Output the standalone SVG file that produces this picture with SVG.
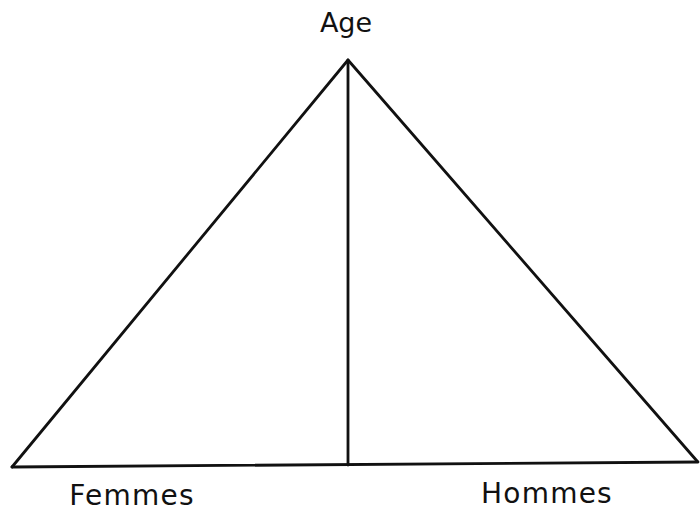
<svg xmlns="http://www.w3.org/2000/svg" width="700" height="511" viewBox="0 0 700 511">
<style>
.ln{stroke:#111;stroke-width:2.8;fill:none;stroke-linecap:round;stroke-linejoin:round}
.lb{font-family:"DejaVu Sans","Liberation Sans",sans-serif;fill:#111}
</style>
<rect width="700" height="511" fill="#fff"/>
<g id="pyramid">
<path class="ln" d="M12,467 L348,60 L697,461"/>
<path class="ln" d="M12,467 L698,462"/>
<path class="ln" d="M348,60 L348,465"/>
</g>
<g id="labels">
<text class="lb" x="346" y="32" font-size="27" text-anchor="middle">Age</text>
<text class="lb" x="132" y="505" font-size="28" letter-spacing="1.2" text-anchor="middle">Femmes</text>
<text class="lb" x="547" y="503" font-size="28" letter-spacing="1.2" text-anchor="middle">Hommes</text>
</g>
</svg>
